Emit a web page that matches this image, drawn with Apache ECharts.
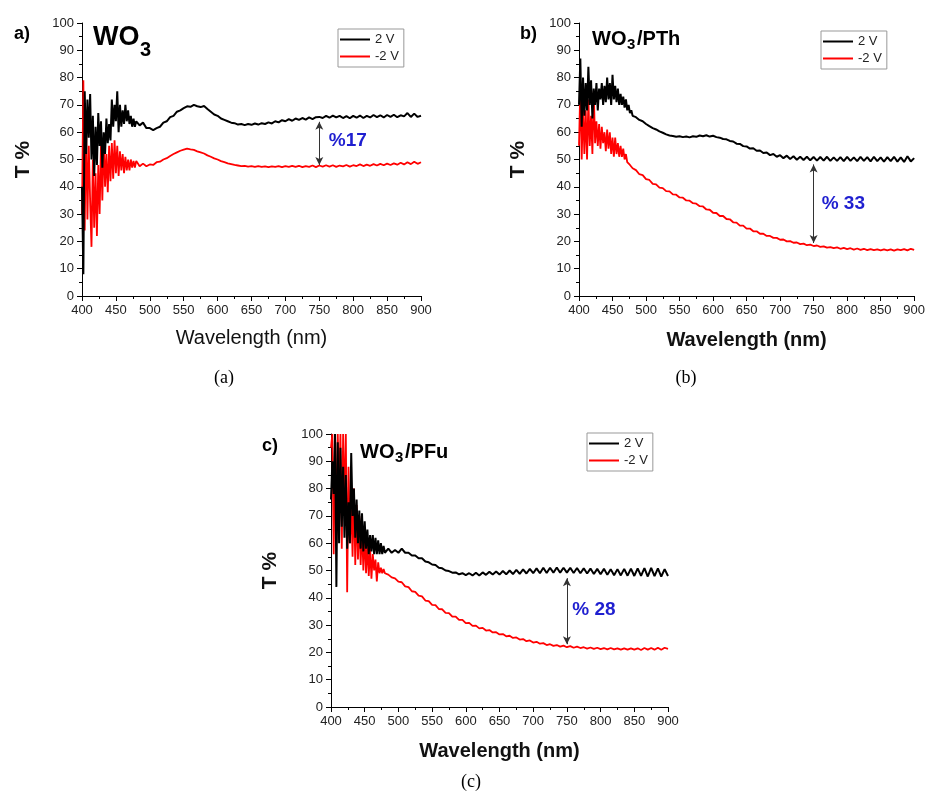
<!DOCTYPE html>
<html>
<head>
<meta charset="utf-8">
<script src="https://cdn.jsdelivr.net/npm/echarts@6/dist/echarts.min.js"></script>
<style>
html,body{margin:0;padding:0;background:#fff;}
#chart{width:928px;height:794px;}
</style>
</head>
<body>
<div id="chart"></div>
<script>
// Wavelength samples (nm), shared by all six spectra
const wavelength = [
400,402,404,406,408,410,412,414,416,418,420,422,424,426,428,430,432,434,436,438,440,
442,444,446,448,450,452,454,456,458,460,462,464,466,468,470,472,474,476,478,480,
485,490,495,500,505,510,515,520,525,530,535,540,545,550,555,560,565,570,575,580,
585,590,595,600,605,610,615,620,625,630,635,640,645,650,655,660,665,670,675,680,
685,690,695,700,705,710,715,720,725,730,735,740,745,750,755,760,765,770,775,780,
785,790,795,800,805,810,815,820,825,830,835,840,845,850,855,860,865,870,875,880,
885,890,895,900];

const seriesNames = ['2 V', '-2 V'];
const panelLetters = ['a)', 'b)', 'c)'];
const captions = ['(a)', '(b)', '(c)'];
const xTicks = [400,450,500,550,600,650,700,750,800,850,900];
const yTicks = [0,10,20,30,40,50,60,70,80,90,100];
const deltaLabels = ['%17', '% 33', '% 28'];
const arrowAt = [[750, 63.8, 48], [750, 48.2, 19.4], [750, 47.2, 23]];
const labelAt = [[764, 57], [762, 33.7], [758, 35.8]];

// Panel a: WO3
const wo3Pos = [
40,8,75,52,72,58,74,50,66,44,62,48,67,55,64,47,60,52,65,56,63,
57,72,62,70,64,75,60,70,62,68,63,70,64,68,63,66,62,65,62,64,
62.5,63.5,61.5,61.5,60.8,61.5,62,63.5,64,65.5,66,67.5,68,68.8,69.5,69.3,70,69.5,69.2,69.6,
68.5,67.5,66.5,66,65,64.5,64,63.5,63.3,62.8,63,62.6,63,62.7,63.2,62.8,63.3,63,63.6,63.2,
64,63.6,64.4,64,64.8,64.2,65,64.5,65.2,64.6,65.4,64.8,65.5,65.6,65.2,66,65.3,66.1,65.4,66,
65.2,65.9,65.1,66,65.3,66.1,65.2,66,65.4,66.3,65.5,66.2,65.4,66.3,65.6,66.4,65.5,66.2,65.8,67,
65.6,66.8,65.6,66];
const wo3Neg = [
30,79,24,65,28,55,35,18,50,25,45,22,48,30,55,35,58,40,52,38,55,
42,56,43,57,45,55,44,53,46,52,45,51,46,50,46,50,47,49.5,47,49.5,
47.5,48.5,47.5,48.2,48,49,49.2,50,50.5,51.3,52,52.6,53.2,53.6,54,53.7,53.5,53,52.6,52.2,
51.5,51,50.4,50,49.4,49,48.6,48.3,48,47.8,47.6,47.7,47.4,47.6,47.3,47.6,47.3,47.5,47.2,47.5,
47.3,47.6,47.2,47.6,47.3,47.7,47.3,47.7,47.2,47.6,47.3,47.8,47.2,47.8,47.4,47.9,47.4,47.9,47.3,47.8,
47.5,48,47.4,47.9,47.6,48.2,47.6,48.1,47.7,48.3,47.8,48.4,47.9,48.5,48,48.6,48.1,48.8,48.2,49,
48.3,49.2,48.4,49];

// Panel b: WO3/PTh
const pthPos = [
70,87,62,80,66,78,68,84,70,79,65,76,70,78,68,76,72,78,70,77,71,
80,72,78,70,81,72,77,71,76,70,74,70,73,69,72,68,70,67,68,66,
65.5,64.5,64,63,62.2,61.5,61,60.3,59.8,59.2,58.8,58.6,58.3,58.5,58.2,58.4,58.1,58.5,58.3,58.8,
58.5,58.9,58.4,58.7,58.2,58,57.5,57.4,56.8,56.6,55.8,55.7,54.9,54.8,54,54.1,53.2,53.3,52.4,52.6,
51.6,52,51,51.6,50.5,51.4,50.2,51.2,49.9,51,49.8,51,49.7,50.9,49.6,50.9,49.6,51,49.5,50.8,
49.5,50.9,49.4,51,49.5,50.8,49.4,51,49.5,50.9,49.3,51,49.4,50.8,49.2,50.9,49.4,51,49.2,50.8,
49.1,51.2,49.3,50.5];
const pthNeg = [
55,77,50,70,52,68,50,72,55,66,52,75,56,64,55,63,54,62,56,60,53,
61,54,60,52,58,51,58,52,56,51,55,51,54,50,52,49,49.5,48,48,46.8,
46.1,44.6,44.3,42.8,42.5,41.1,40.9,39.7,39.5,38.4,38.3,37.2,37.1,36.1,36.0,35.0,34.9,34.0,33.8,32.9,
32.8,31.7,31.6,30.5,30.4,29.3,29.3,28.2,28.1,27.0,26.9,25.8,25.8,24.7,24.7,23.7,23.7,22.8,22.8,22.0,
22.0,21.3,21.3,20.6,20.7,20.0,20.1,19.5,19.6,19.0,19.2,18.6,18.8,18.3,18.5,18.0,18.2,17.7,17.9,17.5,
17.8,17.3,17.6,17.2,17.5,17.0,17.4,16.9,17.3,16.8,17.2,16.8,17.1,16.7,17.1,16.7,17.1,16.6,17.1,16.8,
17.2,16.7,17.3,16.9];

// Panel c: WO3/PFu
const pfuPos = [
76,90,78,100,44,97,60,95,66,88,62,85,58,75,60,93,70,80,62,76,60,
72,58,71,57,68,58,65,56,63,57,63,56,62,56,61,56,60,56,59,56.5,
58,56.5,57.5,56.5,58,56.5,56.5,55.5,55.5,54.5,54.5,53.3,53,52.2,52,51,50.8,50,49.8,49.2,
49.3,48.6,49,48.3,49,48.2,49.2,48.2,49.3,48.4,49.5,48.5,49.6,48.5,49.8,48.6,50,48.7,50.2,48.8,
50.4,48.9,50.6,49,50.8,49,51,49.1,51,49.2,51.1,49.2,51,49.2,51,49.1,50.9,49,50.8,48.9,
50.7,48.7,50.6,48.6,50.6,48.4,50.5,48.3,50.5,48.2,50.6,48.1,50.7,48,50.8,48,50.9,47.8,51,47.9,
50.8,47.8,50.5,48];
const pfuNeg = [
95,100,56,100,60,100,80,100,58,100,72,100,42,88,60,75,55,80,52,74,54,
70,52,66,50,64,49,60,48,58,47,56,50,54,46,53,49,51,49,50.5,49,
48.5,47.5,47.1,45.9,45.7,44.2,43.9,42.4,42.2,40.8,40.5,39.0,38.8,37.4,37.3,35.9,35.8,34.5,34.4,33.1,
33.1,31.9,31.9,30.7,30.8,29.7,29.8,28.8,29.0,28.0,28.2,27.3,27.4,26.6,26.7,25.9,26.1,25.3,25.5,24.7,
24.9,24.1,24.4,23.6,23.9,23.2,23.4,22.7,23.0,22.4,22.7,22.1,22.5,21.9,22.3,21.7,22.1,21.6,21.9,21.4,
21.8,21.3,21.7,21.2,21.6,21.1,21.6,21.1,21.5,21.0,21.5,21.0,21.5,21.0,21.5,20.9,21.6,21.0,21.6,21.0,
21.7,21.0,21.7,21.3];

const panelData = [[wo3Pos, wo3Neg], [pthPos, pthNeg], [pfuPos, pfuNeg]];

// ---------- layout ----------
const FONT = "'Liberation Sans', Arial, sans-serif";
const grids = [
  {left: 82, top: 23, width: 339, height: 273},
  {left: 579, top: 23, width: 338, height: 273},
  {left: 331, top: 434, width: 337, height: 273}
];
const legendPos = [[338, 29], [821, 31], [587, 433]];
const xNameBold = ['normal', 'bold', 'bold'];
const xNameGap = [32, 34, 34];
const yNameGap = [48, 50, 50];

const pairs = d => wavelength.map((w, i) => [w, d[i]]);

const xAxes = grids.map((g, i) => ({
  type: 'value', gridIndex: i, min: xTicks[0], max: xTicks[xTicks.length - 1], interval: 50,
  name: 'Wavelength (nm)', nameLocation: 'middle', nameGap: xNameGap[i],
  nameTextStyle: {fontSize: 20, fontWeight: xNameBold[i], color: '#111', fontFamily: FONT},
  axisLine: {show: true, onZero: false, lineStyle: {color: '#000', width: 1}},
  axisTick: {show: true, length: 5, lineStyle: {color: '#000'}},
  minorTick: {show: true, splitNumber: 2, length: 3, lineStyle: {color: '#000'}},
  axisLabel: {fontSize: 13, color: '#222', fontFamily: FONT, margin: 8, showMinLabel: true, showMaxLabel: true},
  splitLine: {show: false}
}));
const yAxes = grids.map((g, i) => ({
  type: 'value', gridIndex: i, min: yTicks[0], max: yTicks[yTicks.length - 1], interval: 10,
  name: 'T %', nameLocation: 'middle', nameGap: yNameGap[i], nameRotate: 90,
  nameTextStyle: {fontSize: 21, fontWeight: 'bold', color: '#111', fontFamily: FONT},
  axisLine: {show: true, onZero: false, lineStyle: {color: '#000', width: 1}},
  axisTick: {show: true, length: 5, lineStyle: {color: '#000'}},
  minorTick: {show: true, splitNumber: 2, length: 3, lineStyle: {color: '#000'}},
  axisLabel: {fontSize: 13, color: '#222', fontFamily: FONT, margin: 8},
  splitLine: {show: false}
}));

const colors = ['#000000', '#ff0000'];
const widths = [2, 1.8];
const series = [];
panelData.forEach((pd, p) => {
  pd.forEach((d, k) => {
    const s = {
      name: seriesNames[k], type: 'line', xAxisIndex: p, yAxisIndex: p,
      data: pairs(d), symbol: 'none', showSymbol: false, smooth: false,
      lineStyle: {color: colors[k], width: widths[k]}, itemStyle: {color: colors[k]},
      z: k === 0 ? 3 : 2, animation: false, silent: true
    };
    if (k === 0) {
      const a = arrowAt[p];
      s.markLine = {
        silent: true, animation: false, symbol: ['arrow', 'arrow'], symbolSize: [6, 8],
        lineStyle: {color: '#333', type: 'solid', width: 1},
        label: {show: false},
        data: [[{coord: [a[0], a[1]]}, {coord: [a[0], a[2]]}]]
      };
      s.markPoint = {
        silent: true, animation: false, symbol: 'circle', symbolSize: 0,
        data: [{coord: labelAt[p], value: deltaLabels[p]}],
        label: {show: true, position: [0, 0], align: 'left', verticalAlign: 'middle',
          formatter: deltaLabels[p], color: '#1f1fd0', fontSize: 19, fontWeight: 'bold', fontFamily: FONT}
      };
    }
    series.push(s);
  });
});

const legends = legendPos.map(pos => ({
  data: seriesNames, left: pos[0], top: pos[1], orient: 'vertical',
  icon: 'rect', itemWidth: 30, itemHeight: 2, itemGap: 4,
  padding: [4, 5, 4, 2], borderColor: '#999', borderWidth: 1, backgroundColor: '#fff',
  textStyle: {fontSize: 13, color: '#222', fontFamily: FONT, padding: [0, 0, 0, 0]},
  selectedMode: false
}));

function txt(text, x, y, size, weight, fam, align) {
  return {type: 'text', x: x, y: y, silent: true,
    style: {text: text, fontSize: size, fontWeight: weight, fontFamily: fam || FONT, fill: '#000',
      textAlign: align || 'left', textVerticalAlign: 'middle'}};
}
const SERIF = "'Liberation Serif', 'Times New Roman', serif";
const graphic = [
  txt(panelLetters[0], 14, 34, 18, 'bold'),
  txt(panelLetters[1], 520, 34, 18, 'bold'),
  txt(panelLetters[2], 262, 446, 18, 'bold'),
  // titles with subscript
  txt('WO', 93, 38, 27, 'bold'), txt('3', 140, 50, 20, 'bold'),
  txt('WO', 592, 39, 20, 'bold'), txt('3', 627, 45, 15, 'bold'), txt('/PTh', 637, 39, 20, 'bold'),
  txt('WO', 360, 452, 20, 'bold'), txt('3', 395, 458, 15, 'bold'), txt('/PFu', 405, 452, 20, 'bold'),
  txt(captions[0], 224, 378, 18, 'normal', SERIF, 'center'),
  txt(captions[1], 686, 378, 18, 'normal', SERIF, 'center'),
  txt(captions[2], 471, 782, 18, 'normal', SERIF, 'center')
];

const chart = echarts.init(document.getElementById('chart'), null, {renderer: 'canvas'});
chart.setOption({
  backgroundColor: '#ffffff',
  animation: false,
  grid: grids,
  xAxis: xAxes,
  yAxis: yAxes,
  legend: legends,
  series: series,
  graphic: graphic
});
</script>
</body>
</html>
